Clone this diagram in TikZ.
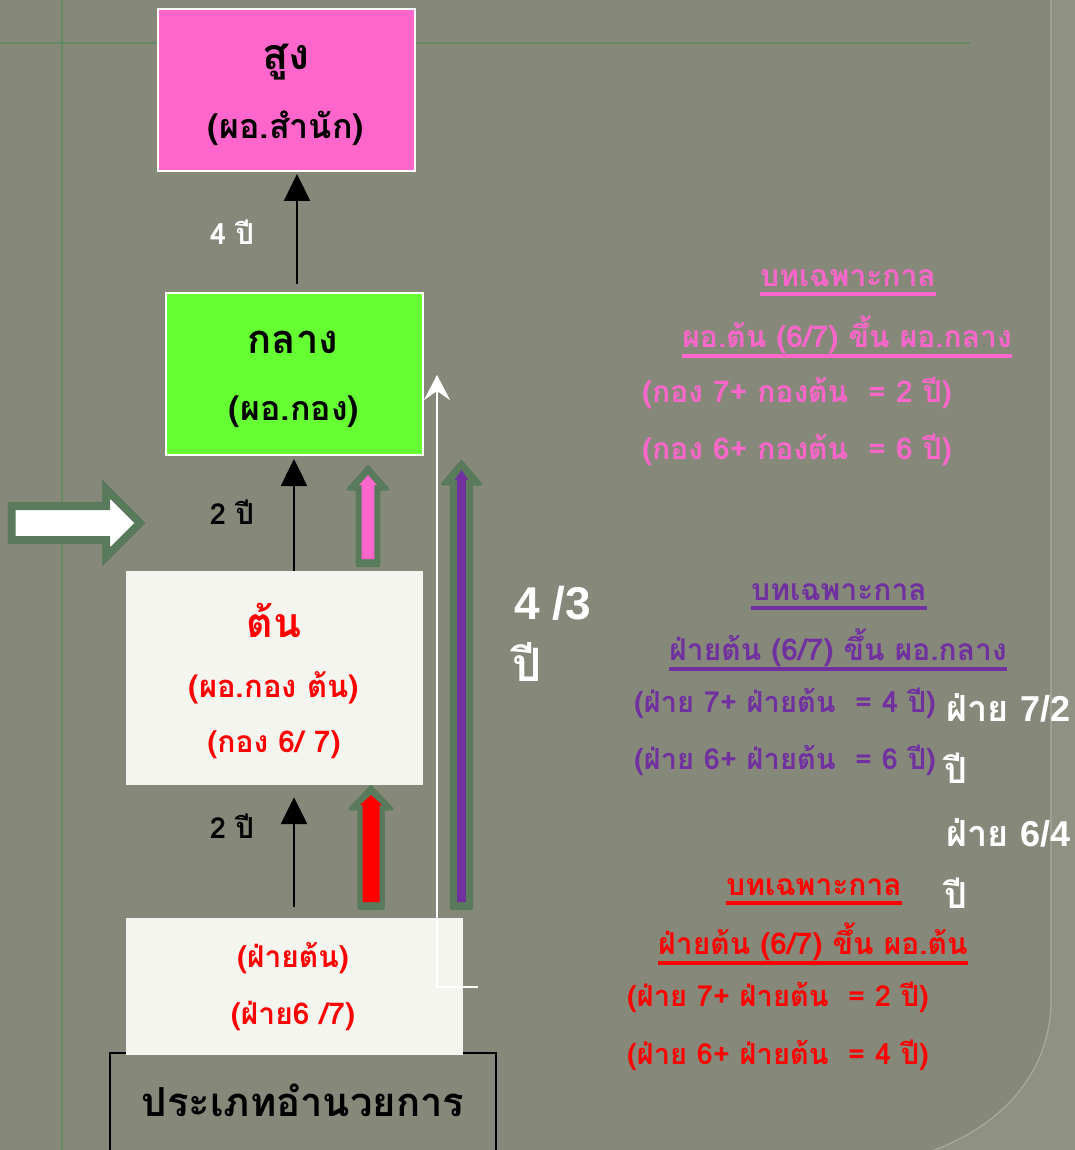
\documentclass[tikz,border=0pt]{standalone}
\usepackage{fontspec}
\setmainfont{Liberation Serif}
\newfontfamily\thai[Script=Thai]{Loma}
\newfontfamily\arial{Liberation Sans}
\usetikzlibrary{arrows.meta}

\definecolor{slate}{RGB}{134,137,121}
\definecolor{slatelight}{RGB}{143,146,131}
\definecolor{rimline}{RGB}{168,171,156}
\definecolor{gridgreen}{RGB}{100,138,100}
\definecolor{sage}{RGB}{90,122,92}
\definecolor{rosepink}{RGB}{255,102,204}
\definecolor{limegreen}{RGB}{102,255,51}
\definecolor{paper}{RGB}{244,245,239}
\definecolor{plum}{RGB}{112,48,160}
\definecolor{pure red}{RGB}{255,0,0}

\newcommand\thsz[1]{\thai\bfseries\fontsize{#1}{#1}\selectfont}
\newcommand\sansz[1]{\arial\bfseries\fontsize{#1}{#1}\selectfont}

\tikzset{
  txt/.style={inner sep=0pt, font=\thsz{#1}},
  level/.style={draw=white, line width=2pt, inner sep=0pt},
  blk/.style={black, line width=2.5pt, -{Triangle[length=27pt,width=26pt]}},
  uline/.style={line width=4pt},
  pics/blockup/.style n args={4}{code={
    % green block arrow with a coloured core; #1 length, #2 core half width,
    % #3 outer shaft half width, #4 core colour
    \filldraw[sage, line width=3pt, line join=round]
      (-#3+1.5,-1.5) -- (-#3+1.5,-#1+24) -- (-#3-7.5,-#1+24) -- (0,-#1+1.5)
      -- (#3+7.5,-#1+24) -- (#3-1.5,-#1+24) -- (#3-1.5,-1.5) -- cycle;
    \fill[#4] (-#2,-8) -- (-#2,-#1+20) -- (-#2-2.5,-#1+20) -- (0,-#1+10)
      -- (#2+2.5,-#1+20) -- (#2,-#1+20) -- (#2,-8) -- cycle;
  }}
}

\begin{document}
\begin{tikzpicture}[x=1pt,y=-1pt]
\useasboundingbox (0,0) rectangle (1075,1150);

% slide background with its rounded inner panel
\fill[slatelight] (0,0) rectangle (1075,1150);
\fill[slate] (0,0) -- (1051,0) -- (1051,1000)
  .. controls (1051,1080) and (990,1140) .. (900,1160) -- (0,1160) -- cycle;
\draw[rimline, line width=1.2pt] (1051,0) -- (1051,1000)
  .. controls (1051,1080) and (990,1140) .. (900,1160);
\draw[gridgreen, line width=1.5pt] (0,43) -- (970,43);
\draw[gridgreen, line width=1.5pt] (62,0) -- (62,1150);

% left marker arrow
\draw[sage, fill=white, line width=8pt, line join=miter]
  (11.5,506) -- (106,506) -- (106,489) -- (140,523) -- (106,557)
  -- (106,540) -- (11.5,540) -- cycle;

% level boxes
\node[level, fill=rosepink, minimum width=257pt, minimum height=162pt] (top) at (286,90) {};
\node[level, fill=limegreen, minimum width=257pt, minimum height=162pt] (mid) at (294,374) {};
\node[draw=black, line width=2pt, minimum width=386pt, minimum height=130pt, inner sep=0pt] (kindbox) at (303,1118) {};
\node[fill=paper, minimum width=297pt, minimum height=214pt, inner sep=0pt] (low) at (274,678) {};
\node[fill=paper, minimum width=337pt, minimum height=137pt, inner sep=0pt] (base) at (294,986.5) {};

% box texts
\node[txt=43] (topA) at (286,62) {สูง};
\node[txt=34] (topB) at (286,128) {(ผอ.สำนัก)};
\node[txt=40] (midA) at (293,342) {กลาง};
\node[txt=34] (midB) at (294,412) {(ผอ.กอง)};
\node[txt=41, pure red] (lowA) at (274,620) {ต้น};
\node[txt=31, pure red] (lowB) at (274,688) {(ผอ.กอง ต้น)};
\node[txt=30, pure red] (lowC) at (274,745) {(กอง 6/ 7)};
\node[txt=30, pure red] (baseA) at (293,958) {(ฝ่ายต้น)};
\node[txt=30, pure red] (baseB) at (293,1016) {(ฝ่าย6 /7)};
\node[txt=40] (kind) at (303,1100) {ประเภทอำนวยการ};

% promotion steps
\draw[blk, shorten <=8pt, shorten >=2pt] ([xshift=3pt]mid.north) -- ([xshift=3pt]mid.north |- top.south);
\draw[blk, shorten >=3pt] (low.north -| mid.south) -- (mid.south);
\draw[blk, shorten <=11pt, shorten >=12pt] (base.north) -- (base.north |- low.south);
\node[txt=29, white] (yrs4) at (232,232) {4 ปี};
\node[txt=29] (yrs2a) at (232,512) {2 ปี};
\node[txt=29] (yrs2b) at (232,826) {2 ปี};

% transitional routes
\pic (pinkroute) at (368,567) {blockup={102}{6.3}{12.3}{rosepink}};
\pic (redroute) at (371,910) {blockup={125}{8.5}{13.75}{pure red}};
\pic (plumroute) at (461.5,910) {blockup={450}{4.3}{11.7}{plum}};

\coordinate (wfoot) at (478,987);
\coordinate (wbend) at (437,987);
\coordinate (wtip) at (437,375);
\draw[white, line width=2.5pt, -{Stealth[length=25pt,width=26pt,inset=9pt]}] (wfoot) -- (wbend) -- (wtip);

\node[font=\sansz{46}, white, inner sep=0pt] (span) at (553,603) {4 /3};
\node[txt=46, white] (spanY) at (527,662) {ปี};

% transitional provisions
\node[txt=30, rosepink] (pA) at (848,278) {บทเฉพาะกาล};
\node[txt=30, rosepink] (pB) at (847,335) {ผอ.ต้น (6/7) ขึ้น ผอ.กลาง};
\node[txt=30, rosepink, anchor=west] (pC) at (642,393) {(กอง 7+ กองต้น \ = 2 ปี)};
\node[txt=30, rosepink, anchor=west] (pD) at (642,450) {(กอง 6+ กองต้น \ = 6 ปี)};
\draw[rosepink, uline] ([yshift=-8pt]pA.base west) -- ([yshift=-8pt]pA.base east);
\draw[rosepink, uline] ([yshift=-8pt]pB.base west) -- ([yshift=-8pt]pB.base east);

\node[txt=30, plum] (qA) at (839,592) {บทเฉพาะกาล};
\node[txt=30, plum] (qB) at (838,648) {ฝ่ายต้น (6/7) ขึ้น ผอ.กลาง};
\node[txt=29, plum, anchor=west] (qC) at (634,703) {(ฝ่าย 7+ ฝ่ายต้น \ = 4 ปี)};
\node[txt=29, plum, anchor=west] (qD) at (634,760) {(ฝ่าย 6+ ฝ่ายต้น \ = 6 ปี)};
\draw[plum, uline] ([yshift=-8pt]qA.base west) -- ([yshift=-8pt]qA.base east);
\draw[plum, uline] ([yshift=-8pt]qB.base west) -- ([yshift=-8pt]qB.base east);

\node[txt=30, pure red] (rA) at (814,887) {บทเฉพาะกาล};
\node[txt=30, pure red] (rB) at (813,942) {ฝ่ายต้น (6/7) ขึ้น ผอ.ต้น};
\node[txt=29, pure red, anchor=west] (rC) at (627,997) {(ฝ่าย 7+ ฝ่ายต้น \ = 2 ปี)};
\node[txt=29, pure red, anchor=west] (rD) at (627,1055) {(ฝ่าย 6+ ฝ่ายต้น \ = 4 ปี)};
\draw[pure red, uline] ([yshift=-8pt]rA.base west) -- ([yshift=-8pt]rA.base east);
\draw[pure red, uline] ([yshift=-8pt]rB.base west) -- ([yshift=-8pt]rB.base east);

% division-level spans
\node[txt=36, white, anchor=west] (dv7) at (946,708) {ฝ่าย \sansz{36}7/2};
\node[txt=36, white, anchor=west] (dv7y) at (944,768) {ปี};
\node[txt=36, white, anchor=west] (dv6) at (946,833) {ฝ่าย \sansz{36}6/4};
\node[txt=36, white, anchor=west] (dv6y) at (944,893) {ปี};
\end{tikzpicture}
\end{document}
